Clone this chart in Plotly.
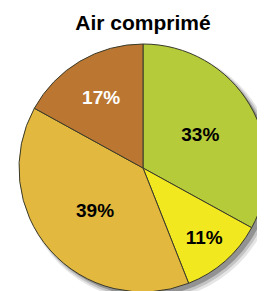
import plotly.graph_objects as go

title = "Air comprimé"
labels = ["A", "B", "C", "D"]
values = [33, 11, 39, 17]
colors = ["#b5cb3a", "#f1e81f", "#e2b83e", "#bb7731"]
text_colors = ["black", "black", "black", "white"]

W, H = 265, 291
# page body has an 8px margin, so figure pixel coords are offset
CX, CY, R = 135, 160, 124

fig = go.Figure(go.Pie(
    labels=labels,
    values=values,
    sort=False,
    direction="clockwise",
    rotation=0,
    marker=dict(colors=colors, line=dict(color="#3a3a2a", width=1)),
    texttemplate="%{percent:.0%}",
    textposition="inside",
    insidetextorientation="horizontal",
    insidetextfont=dict(family="Liberation Sans, Arial", size=19, color=text_colors, weight="bold"),
    domain=dict(x=[(CX - R) / W, (CX + R) / W], y=[(H - CY - R) / H, (H - CY + R) / H]),
    showlegend=False,
    hoverinfo="skip",
))

shapes = []
for off, rr, op in [(6, 3, 0.10), (5, 1.5, 0.15), (4, 0, 0.25)]:
    shapes.append(dict(
        type="circle", xref="paper", yref="paper", layer="below",
        x0=(CX - R - rr + off) / W, x1=(CX + R + rr + off) / W,
        y0=(H - CY - R - rr - off) / H, y1=(H - CY + R + rr - off) / H,
        fillcolor="black", opacity=op, line=dict(width=0),
    ))

fig.update_layout(
    width=W, height=H,
    margin=dict(l=0, r=0, t=0, b=0),
    paper_bgcolor="white",
    plot_bgcolor="white",
    shapes=shapes,
    title=dict(text="<b>" + title + "</b>", x=CX / W, xanchor="center", y=1 - 15 / H, yanchor="middle",
               font=dict(family="Liberation Sans, Arial", size=21, color="black")),
    uniformtext=dict(minsize=19, mode="show"),
)

fig.write_html("out.html")
